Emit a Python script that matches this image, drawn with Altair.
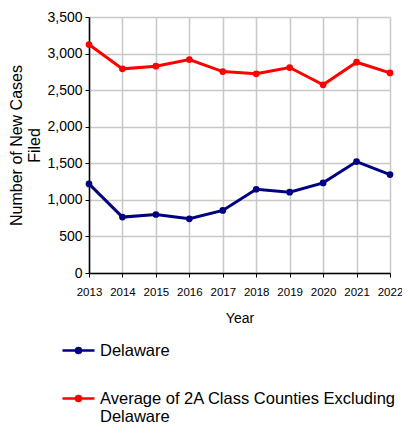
import altair as alt
import pandas as pd

years = ["2013", "2014", "2015", "2016", "2017", "2018", "2019", "2020", "2021", "2022"]
delaware = [1218, 764, 800, 741, 855, 1145, 1105, 1232, 1523, 1345]
average = [3123, 2791, 2827, 2918, 2754, 2723, 2809, 2573, 2882, 2736]
series_names = ["Delaware", "Average of 2A Class Counties Excluding Delaware"]
series_colors = ["#000080", "#FF0000"]

rows = []
for y, v in zip(years, delaware):
    rows.append({"Year": y, "Series": series_names[0], "Value": v})
for y, v in zip(years, average):
    rows.append({"Year": y, "Series": series_names[1], "Value": v})
df = pd.DataFrame(rows)

FONT = "Liberation Sans"
sym = "M-1,0L1,0M0.16,0A0.16,0.16,0,1,1,-0.16,0A0.16,0.16,0,1,1,0.16,0Z"

chart = alt.Chart(df).mark_line(
    strokeWidth=3,
    point=alt.OverlayMarkDef(size=45, filled=True),
).encode(
    x=alt.X("Year:O", sort=years,
            scale=alt.Scale(type="point", padding=0),
            axis=alt.Axis(title="Year", labelAngle=0, labelFontSize=11.5,
                          titleFontSize=14, titleFontWeight="normal",
                          titlePadding=14, labelPadding=9, grid=True)),
    y=alt.Y("Value:Q", scale=alt.Scale(domain=[0, 3500]),
            axis=alt.Axis(title=["Number of New Cases", "Filed"], values=list(range(0, 3501, 500)),
                          format=",d", labelFontSize=14, titleFontSize=16,
                          titleFontWeight="normal", titlePadding=4, labelPadding=3)),
    color=alt.Color("Series:N",
                    scale=alt.Scale(domain=series_names, range=series_colors),
                    legend=alt.Legend(
                        title=None, orient="none", legendX=-28, legendY=316,
                        direction="vertical", symbolType=sym, symbolSize=1024,
                        symbolStrokeWidth=2.5, labelFontSize=16.5, labelLimit=400,
                        rowPadding=22, labelOffset=4,
                        labelExpr="datum.label == 'Delaware' ? datum.label : ['Average of 2A Class Counties Excluding', 'Delaware']",
                    )),
).properties(
    width=301, height=256,
    padding={"left": 81, "top": 9, "right": 12, "bottom": 153},
    autosize=alt.AutoSizeParams(type="none"),
).configure_view(
    stroke=None
).configure_axis(
    labelFont=FONT, titleFont=FONT, labelColor="#000", titleColor="#000",
    domainColor="#000", domainWidth=1.5, tickColor="#000", tickSize=4,
    gridColor="#c8c8c8", gridWidth=1.5,
).configure_legend(
    labelFont=FONT, labelColor="#000",
)

chart.save("out.html", embed_options={"renderer": "svg", "actions": False})
